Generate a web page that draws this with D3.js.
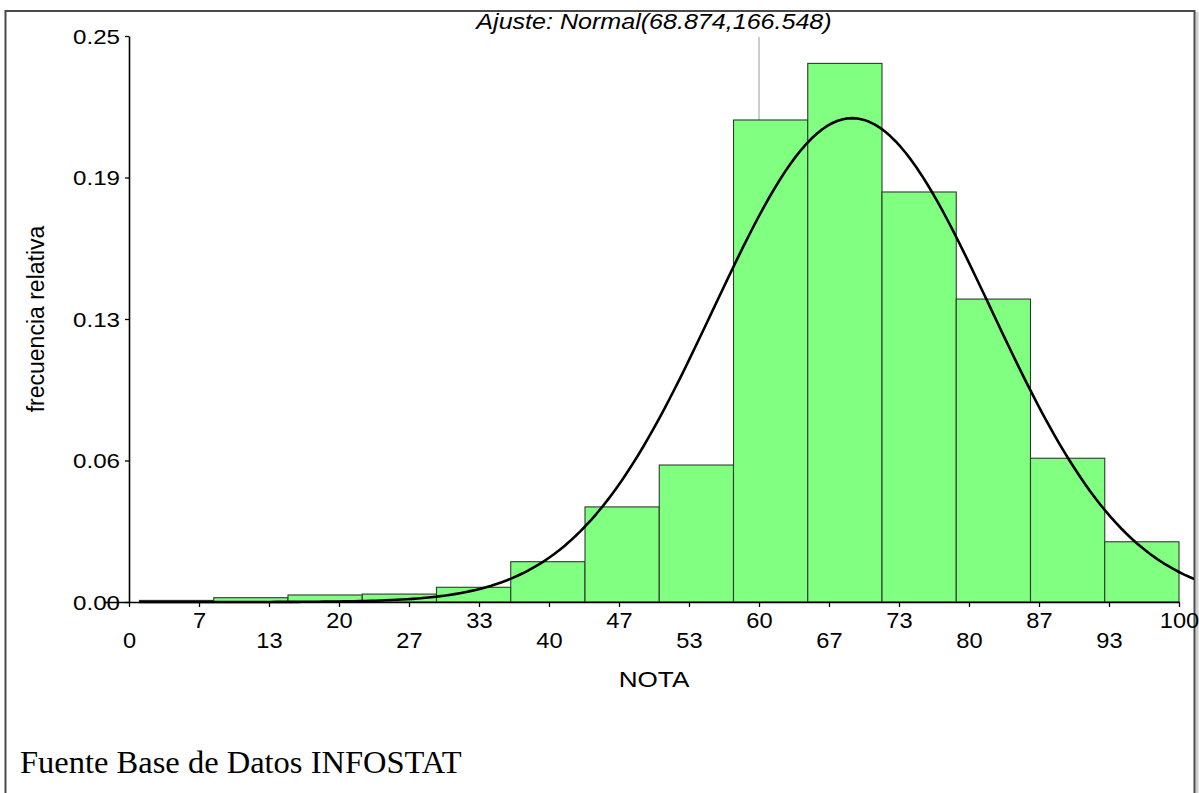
<!DOCTYPE html>
<html>
<head>
<meta charset="utf-8">
<script src="https://cdn.jsdelivr.net/npm/d3@7"></script>
<style>
  html, body { margin: 0; padding: 0; background: #fff; }
  svg { display: block; }
</style>
</head>
<body>
<svg id="chart" width="1199" height="793"></svg>
<script>
// ---- data ----
const binStart = 1;
const binEnd = 100;
const binFreq = [0.0007, 0.0019, 0.0031, 0.0035, 0.0065, 0.0178, 0.042, 0.0605,
                 0.2129, 0.2379, 0.1811, 0.1338, 0.0635, 0.0266];
const xTickValues = [0, 6.667, 13.333, 20, 26.667, 33.333, 40, 46.667, 53.333, 60, 66.667, 73.333, 80, 86.667, 93.333, 100];
const xTickLabels = ["0","7","13","20","27","33","40","47","53","60","67","73","80","87","93","100"];
const yTickValues = [0, 0.0625, 0.125, 0.1875, 0.25];
const yTickLabels = ["0.00","0.06","0.13","0.19","0.25"];
const fitMean = 68.874;
const fitSdDrawn = 13.2;   // spread of the drawn curve
const titleText = "Ajuste: Normal(68.874,166.548)";
const xTitle = "NOTA";
const yTitle = "frecuencia relativa";
const footer = "Fuente Base de Datos INFOSTAT";

// ---- layout ----
const svg = d3.select("#chart");
const x = d3.scaleLinear().domain([0, 100]).range([129, 1179]);
const y = d3.scaleLinear().domain([0, 0.25]).range([602, 36]);
const sans = "'Liberation Sans', Arial, sans-serif";

svg.append("defs").append("clipPath").attr("id", "frameClip")
  .append("rect").attr("x", 6).attr("y", 12).attr("width", 1188).attr("height", 800);

// frame
svg.append("line").attr("x1", 1197).attr("x2", 1197).attr("y1", 12).attr("y2", 793)
  .attr("stroke", "#cfcfcf").attr("stroke-width", 3);
svg.append("path").attr("d", "M5.5,800 V11 H1194.5 V800")
  .attr("fill", "none").attr("stroke", "#4a4a4a").attr("stroke-width", 2);

// bars
const nb = binFreq.length;
const bw = (binEnd - binStart) / nb;
const bins = binFreq.map((f, i) => ({x0: binStart + i * bw, x1: binStart + (i + 1) * bw, f}));

// thin grey leader line from title
svg.append("line")
  .attr("x1", x(60) ).attr("x2", x(60))
  .attr("y1", 37).attr("y2", y(binFreq[8]))
  .attr("stroke", "#9a9a9a").attr("stroke-width", 1);

const g = svg.append("g").attr("clip-path", "url(#frameClip)");
g.selectAll("rect.bar").data(bins).enter().append("rect")
  .attr("class", "bar")
  .attr("x", d => x(d.x0))
  .attr("width", d => x(d.x1) - x(d.x0))
  .attr("y", d => y(d.f))
  .attr("height", d => y(0) - y(d.f))
  .attr("fill", "#80ff80")
  .attr("stroke", "#2f3a2f")
  .attr("stroke-width", 1.1);

// fitted normal curve (scaled by bin width)
const pts = d3.range(binStart, 101.8, 0.5).map(v => {
  const z = (v - fitMean) / fitSdDrawn;
  return [v, bw * Math.exp(-0.5 * z * z) / (fitSdDrawn * Math.sqrt(2 * Math.PI))];
});
g.append("path").datum(pts)
  .attr("d", d3.line().x(d => x(d[0])).y(d => y(d[1])))
  .attr("fill", "none").attr("stroke", "#000").attr("stroke-width", 2.6)
  .attr("stroke-linejoin", "round");

// y axis
const ySx = 1.15;
const yAxis = svg.append("g").attr("transform", `translate(${x(0)},0)`)
  .call(d3.axisLeft(y).tickValues(yTickValues)
    .tickFormat((d, i) => yTickLabels[i]).tickSize(4).tickSizeOuter(0));
yAxis.select(".domain").attr("stroke", "#000").attr("stroke-width", 1.6);
yAxis.selectAll(".tick line").attr("stroke", "#000").attr("stroke-width", 1.3);
yAxis.selectAll(".tick text")
  .attr("font-family", sans).attr("font-size", 21).attr("fill", "#000")
  .attr("x", -9 / ySx).attr("dy", "0.34em")
  .attr("transform", `scale(${ySx},1)`);

// x axis
const xSx = 1.1;
const xAxis = svg.append("g").attr("transform", `translate(0,${y(0)})`)
  .call(d3.axisBottom(x).tickValues(xTickValues)
    .tickFormat((d, i) => xTickLabels[i]).tickSize(5).tickSizeOuter(0));
xAxis.select(".domain").attr("stroke", "#000").attr("stroke-width", 1.6)
  .attr("d", `M${104},0.5H${x(100) + 1}`);
xAxis.selectAll(".tick line").attr("stroke", "#000").attr("stroke-width", 1.3);
xAxis.selectAll(".tick text")
  .attr("font-family", sans).attr("font-size", 21.5).attr("fill", "#000")
  .attr("dy", null)
  .attr("y", (d, i) => i % 2 === 1 ? 26 : 46)
  .attr("transform", `scale(${xSx},1)`);

// titles
svg.append("text")
  .attr("transform", `translate(654,29) scale(1.14,1)`)
  .attr("text-anchor", "middle").attr("font-family", sans)
  .attr("font-style", "italic").attr("font-size", 22).attr("fill", "#000")
  .text(titleText);

svg.append("text")
  .attr("transform", `translate(654,687) scale(1.16,1)`)
  .attr("text-anchor", "middle").attr("font-family", sans)
  .attr("font-size", 22.5).attr("fill", "#000")
  .text(xTitle);

svg.append("text")
  .attr("transform", `translate(44,319) rotate(-90)`)
  .attr("text-anchor", "middle").attr("font-family", sans)
  .attr("font-size", 23).attr("fill", "#000")
  .text(yTitle);

svg.append("text")
  .attr("x", 20).attr("y", 773)
  .attr("font-family", "'Liberation Serif', 'Times New Roman', serif")
  .attr("font-size", 32.5).attr("fill", "#000")
  .text(footer);
</script>
</body>
</html>
